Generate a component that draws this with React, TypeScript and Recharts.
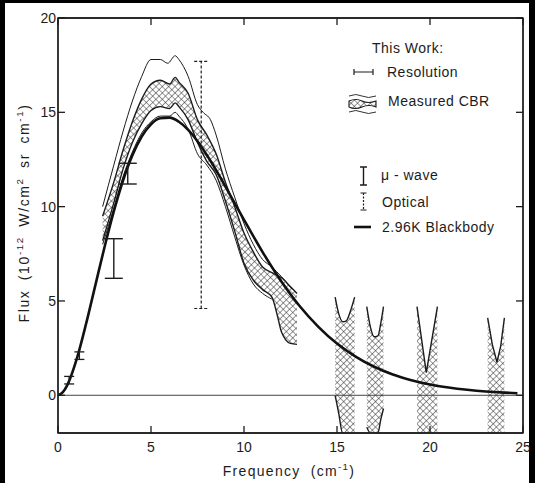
import React from 'react';
import {
  ComposedChart,
  Line,
  Area,
  Scatter,
  ErrorBar,
  XAxis,
  YAxis,
  ReferenceLine,
  ReferenceArea,
} from 'recharts';

// 2.96 K blackbody
const bbFreq = [0, 0.25, 0.5, 1, 1.5, 2, 2.5, 3, 3.5, 4, 4.5, 5, 5.5, 6, 6.5, 7, 7.5, 8, 8.5, 9, 9.5, 10, 11, 12, 13, 14, 15, 16, 17, 18, 19, 20, 21, 22, 23, 24, 24.7];
const bbFlux = [0, 0.15, 0.54, 1.9, 3.75, 5.8, 7.85, 9.75, 11.4, 12.73, 13.72, 14.37, 14.69, 14.72, 14.5, 14.07, 13.47, 12.74, 11.94, 11.07, 10.18, 9.3, 7.59, 6.05, 4.72, 3.63, 2.74, 2.05, 1.51, 1.1, 0.8, 0.57, 0.41, 0.29, 0.2, 0.14, 0.11];

// measured CBR, hatched band
const cbrFreq = [2.4, 3, 3.5, 4, 4.5, 5, 5.5, 6, 6.3, 6.5, 7, 7.5, 8, 8.5, 9, 9.5, 10, 10.5, 11, 11.5, 11.8, 12, 12.5, 12.85];
const cbrHigh = [9.5, 11.3, 13.0, 14.5, 15.7, 16.5, 16.7, 16.5, 16.85, 16.6, 16.0, 14.6, 13.8, 12.8, 11.3, 10.0, 8.6, 7.6, 6.8, 6.5, 6.35, 6.25, 5.75, 5.4];
const cbrLow = [8.2, 10.2, 12.0, 13.4, 14.4, 15.1, 15.3, 15.2, 15.5, 15.3, 14.6, 13.4, 12.4, 11.7, 10.3, 8.7, 7.0, 6.1, 5.6, 5.2, 4.2, 3.4, 2.75, 2.7];

// thin envelope lines
const upFreq = [2.4, 3, 3.5, 4, 4.5, 5, 5.5, 5.9, 6.3, 6.5, 7, 7.5, 7.8, 8.2, 8.5, 9, 9.5, 10, 10.5, 11, 11.5, 12, 12.6];
const upFlux = [10.0, 12.2, 14.0, 15.6, 16.9, 17.8, 17.8, 17.6, 18.0, 17.8, 16.9, 15.4, 15.0, 14.6, 13.8, 12.0, 10.5, 9.1, 8.0, 7.2, 6.8, 6.3, 5.6];
const loFreq = [2.4, 3, 3.5, 4, 4.5, 5, 5.5, 6, 6.3, 6.5, 7, 7.5, 8, 8.5, 9, 9.5, 10, 10.5, 11, 11.5];
const loFlux = [8.0, 9.9, 11.6, 12.9, 13.9, 14.5, 14.8, 14.8, 15.0, 14.8, 14.1, 12.8, 12.2, 11.4, 10.0, 8.4, 6.9, 5.9, 5.4, 5.1];

// high frequency bands
const band1Freq = [14.9, 15.1, 15.3, 15.5, 15.7, 15.95];
const band1High = [5.2, 4.3, 3.9, 3.95, 4.4, 5.2];
const band1Low = [0, -1.0, -2, -2, -2, -2];
const band2Freq = [16.6, 16.8, 17.0, 17.2, 17.35, 17.5];
const band2High = [4.7, 3.6, 3.1, 3.15, 3.8, 4.7];
const band2Low = [-1.7, -2, -2, -2, -1.3, -0.7];
const band3Freq = [19.3, 19.8, 20.4];
const band3High = [4.7, 1.2, 4.7];
const band3Low = [-2, -2, -2];
const band4Freq = [23.1, 23.35, 23.6, 23.8, 24.0];
const band4High = [4.1, 2.7, 1.75, 2.6, 4.1];
const band4Low = [-2, -2, -2, -2, -2];

// other measurements
const muFreq = [0.6, 1.15, 3.0, 3.75];
const muLow = [0.6, 1.9, 6.2, 11.2];
const muHigh = [1.0, 2.3, 8.3, 12.3];
const opFreq = [7.7];
const opLow = [4.6];
const opHigh = [17.7];

const xTicks = [0, 5, 10, 15, 20, 25];
const yTicks = [0, 5, 10, 15, 20];

const pts = (xs: number[], ys: number[]) => xs.map((x, i) => ({ x, y: ys[i] }));
const range = (xs: number[], lo: number[], hi: number[]) => xs.map((x, i) => ({ x, r: [lo[i], hi[i]] }));
const bars = (xs: number[], lo: number[], hi: number[]) =>
  xs.map((x, i) => ({ x, y: (lo[i] + hi[i]) / 2, e: [(hi[i] - lo[i]) / 2, (hi[i] - lo[i]) / 2] }));

const bbData = pts(bbFreq, bbFlux);
const upData = pts(upFreq, upFlux);
const loData = pts(loFreq, loFlux);
const cbrData = range(cbrFreq, cbrLow, cbrHigh);
const bands = [
  { d: range(band1Freq, band1Low, band1High), t: 'monotone' },
  { d: range(band2Freq, band2Low, band2High), t: 'monotone' },
  { d: range(band3Freq, band3Low, band3High), t: 'linear' },
  { d: range(band4Freq, band4Low, band4High), t: 'linear' },
];
const muData = bars(muFreq, muLow, muHigh);
const opData = bars(opFreq, opLow, opHigh);

const INK = '#1c1c1c';
const FONT = '"Liberation Sans", Arial, sans-serif';
const TL = 7; // inward tick length

// custom ticks: inward tick mark plus label
const BottomTick = (p: any) => (
  <g>
    <line x1={p.x} x2={p.x} y1={p.y - 8} y2={p.y - 8 - TL} stroke={INK} strokeWidth={1.3} />
    <text x={p.x} y={p.y} dy="0.75em" textAnchor="middle" fill={INK} fontSize={14} fontFamily={FONT}>
      {p.payload.value}
    </text>
  </g>
);
const LeftTick = (p: any) => (
  <g>
    <line x1={p.x + 2} x2={p.x + 2 + TL} y1={p.y} y2={p.y} stroke={INK} strokeWidth={1.3} />
    <text x={p.x} y={p.y} dy="0.36em" textAnchor="end" fill={INK} fontSize={14} fontFamily={FONT}>
      {p.payload.value}
    </text>
  </g>
);
const TopTick = (p: any) => <line x1={p.x} x2={p.x} y1={p.y} y2={p.y + TL} stroke={INK} strokeWidth={1.3} />;
const RightTick = (p: any) => <line x1={p.x} x2={p.x - TL} y1={p.y} y2={p.y} stroke={INK} strokeWidth={1.3} />;

function T({ x, y, children }: { x: number; y: number; children: React.ReactNode }) {
  return (
    <div
      style={{
        position: 'absolute',
        left: x,
        top: y,
        transform: 'translateY(-50%)',
        whiteSpace: 'nowrap',
        fontSize: 14,
        letterSpacing: 0.5,
        color: INK,
        fontFamily: FONT,
        lineHeight: 1,
      }}
    >
      {children}
    </div>
  );
}

const sup = { fontSize: '0.7em', verticalAlign: 'super', lineHeight: 0 } as const;

export default function App() {
  return (
    <div style={{ position: 'relative', width: 535, height: 483, background: '#000', overflow: 'hidden' }}>
      <style>{'body{margin:0}'}</style>
      <div style={{ position: 'absolute', left: 5, top: 3, width: 524, height: 480, background: '#fff' }} />
      <svg width="0" height="0" style={{ position: 'absolute' }}>
        <defs>
          <pattern id="xhatch" width="4.5" height="4.5" patternUnits="userSpaceOnUse" patternTransform="rotate(45)">
            <rect width="4.5" height="4.5" fill="#fff" />
            <path d="M0 0 H4.5 M0 0 V4.5" stroke="#2a2a2a" strokeWidth="1" />
          </pattern>
        </defs>
      </svg>
      <div style={{ position: 'absolute', left: 0, top: 0 }}>
        <ComposedChart width={535} height={483} margin={{ top: 17, right: 11, bottom: 20, left: 18 }}>
          <XAxis
            dataKey="x"
            type="number"
            domain={[0, 25]}
            ticks={xTicks}
            allowDataOverflow
            height={30}
            tickSize={0}
            tickMargin={8}
            tickLine={false}
            tick={BottomTick}
            stroke={INK}
            strokeWidth={1.3}
          />
          <XAxis
            xAxisId="top"
            dataKey="x"
            orientation="top"
            type="number"
            domain={[0, 25]}
            ticks={xTicks}
            allowDataOverflow
            height={1}
            tickSize={0}
            tickMargin={0}
            tickLine={false}
            tick={TopTick}
            stroke={INK}
            strokeWidth={1.3}
          />
          <YAxis
            type="number"
            domain={[-2, 20]}
            ticks={yTicks}
            allowDataOverflow
            width={40}
            tickSize={0}
            tickMargin={2}
            tickLine={false}
            tick={LeftTick}
            stroke={INK}
            strokeWidth={1.3}
          />
          <YAxis
            yAxisId="right"
            orientation="right"
            type="number"
            domain={[-2, 20]}
            ticks={yTicks}
            allowDataOverflow
            width={1}
            tickSize={0}
            tickMargin={0}
            tickLine={false}
            tick={RightTick}
            stroke={INK}
            strokeWidth={1.3}
          />
          <ReferenceArea x1={0} x2={25} y1={-2} y2={20} fill="none" stroke={INK} strokeWidth={1.3} />
          <ReferenceLine y={0} stroke="#444" strokeWidth={1} />
          <Area
            data={cbrData}
            dataKey="r"
            type="monotone"
            stroke={INK}
            strokeWidth={1.4}
            fill="url(#xhatch)"
            fillOpacity={1}
            dot={false}
            activeDot={false}
            isAnimationActive={false}
          />
          {bands.map((b, i) => (
            <Area
              key={i}
              data={b.d}
              dataKey="r"
              type={b.t as any}
              stroke={INK}
              strokeWidth={1.4}
              fill="url(#xhatch)"
              fillOpacity={1}
              dot={false}
              activeDot={false}
              isAnimationActive={false}
            />
          ))}
          <Line data={upData} dataKey="y" type="monotone" stroke={INK} strokeWidth={1} dot={false} activeDot={false} isAnimationActive={false} />
          <Line data={loData} dataKey="y" type="monotone" stroke={INK} strokeWidth={1} dot={false} activeDot={false} isAnimationActive={false} />
          <Line data={bbData} dataKey="y" type="monotone" stroke="#111" strokeWidth={2.6} dot={false} activeDot={false} isAnimationActive={false} />
          {/* keeps the frame axes attached to data */}
          <Line data={bbData} dataKey="y" xAxisId="top" yAxisId="right" stroke="none" dot={false} activeDot={false} isAnimationActive={false} />
          <Scatter data={muData.slice(0, 2)} dataKey="y" shape={() => <g />} isAnimationActive={false}>
            <ErrorBar dataKey="e" direction="y" width={5} stroke={INK} strokeWidth={1.3} />
          </Scatter>
          <Scatter data={muData.slice(2)} dataKey="y" shape={() => <g />} isAnimationActive={false}>
            <ErrorBar dataKey="e" direction="y" width={9} stroke={INK} strokeWidth={1.4} />
          </Scatter>
          <Scatter data={opData} dataKey="y" shape={() => <g />} isAnimationActive={false}>
            <ErrorBar dataKey="e" direction="y" width={7} stroke={INK} strokeWidth={1.2} strokeDasharray="3 2" />
          </Scatter>
        </ComposedChart>
      </div>

      {/* axis titles */}
      <div
        style={{
          position: 'absolute',
          left: 24,
          top: 213,
          transform: 'translate(-50%, -50%) rotate(-90deg)',
          whiteSpace: 'nowrap',
          fontSize: 14,
          letterSpacing: 1.6,
          wordSpacing: 4,
          color: INK,
          fontFamily: FONT,
          lineHeight: 1,
        }}
      >
        Flux (10<span style={sup}>-12</span> W/cm<span style={sup}>2</span> sr cm<span style={sup}>-1</span>)
      </div>
      <div
        style={{
          position: 'absolute',
          left: 289,
          top: 471,
          transform: 'translate(-50%, -50%)',
          whiteSpace: 'nowrap',
          fontSize: 14,
          letterSpacing: 1.3,
          wordSpacing: 5,
          color: INK,
          fontFamily: FONT,
          lineHeight: 1,
        }}
      >
        Frequency (cm<span style={sup}>-1</span>)
      </div>

      {/* legend */}
      <T x={372} y={48}>This Work:</T>
      <svg style={{ position: 'absolute', left: 353, top: 67 }} width={22} height={10}>
        <path d="M1 5 H20 M1 2 V8 M20 2 V8" stroke={INK} strokeWidth={1.2} fill="none" />
      </svg>
      <T x={387} y={72}>Resolution</T>
      <svg style={{ position: 'absolute', left: 348, top: 93 }} width={29} height={22}>
        <path d="M1 3 Q8 0 14 3 T28 3" stroke={INK} strokeWidth={0.9} fill="none" />
        <path d="M1 8 Q8 5 14 8 T28 8 L28 14 Q21 11 14 14 T1 14 Z" fill="url(#xhatch)" stroke={INK} strokeWidth={1.1} />
        <path d="M1 19 Q8 16 14 19 T28 19" stroke={INK} strokeWidth={0.9} fill="none" />
      </svg>
      <T x={388} y={101}>Measured CBR</T>
      <svg style={{ position: 'absolute', left: 359, top: 166 }} width={9} height={20}>
        <path d="M4.5 1 V19 M1 1 H8 M1 19 H8" stroke={INK} strokeWidth={1.4} fill="none" />
      </svg>
      <T x={381} y={175}>
        μ - wave
      </T>
      <svg style={{ position: 'absolute', left: 359, top: 192 }} width={9} height={19}>
        <path d="M4.5 1 V18" stroke={INK} strokeWidth={1.2} strokeDasharray="2 1.5" fill="none" />
        <path d="M1.5 1 H7.5 M1.5 18 H7.5" stroke={INK} strokeWidth={1.2} fill="none" />
      </svg>
      <T x={382} y={202}>Optical</T>
      <svg style={{ position: 'absolute', left: 354, top: 225 }} width={17} height={4}>
        <path d="M0 2 H17" stroke="#111" strokeWidth={2.6} />
      </svg>
      <T x={382} y={227}>2.96K Blackbody</T>
    </div>
  );
}
